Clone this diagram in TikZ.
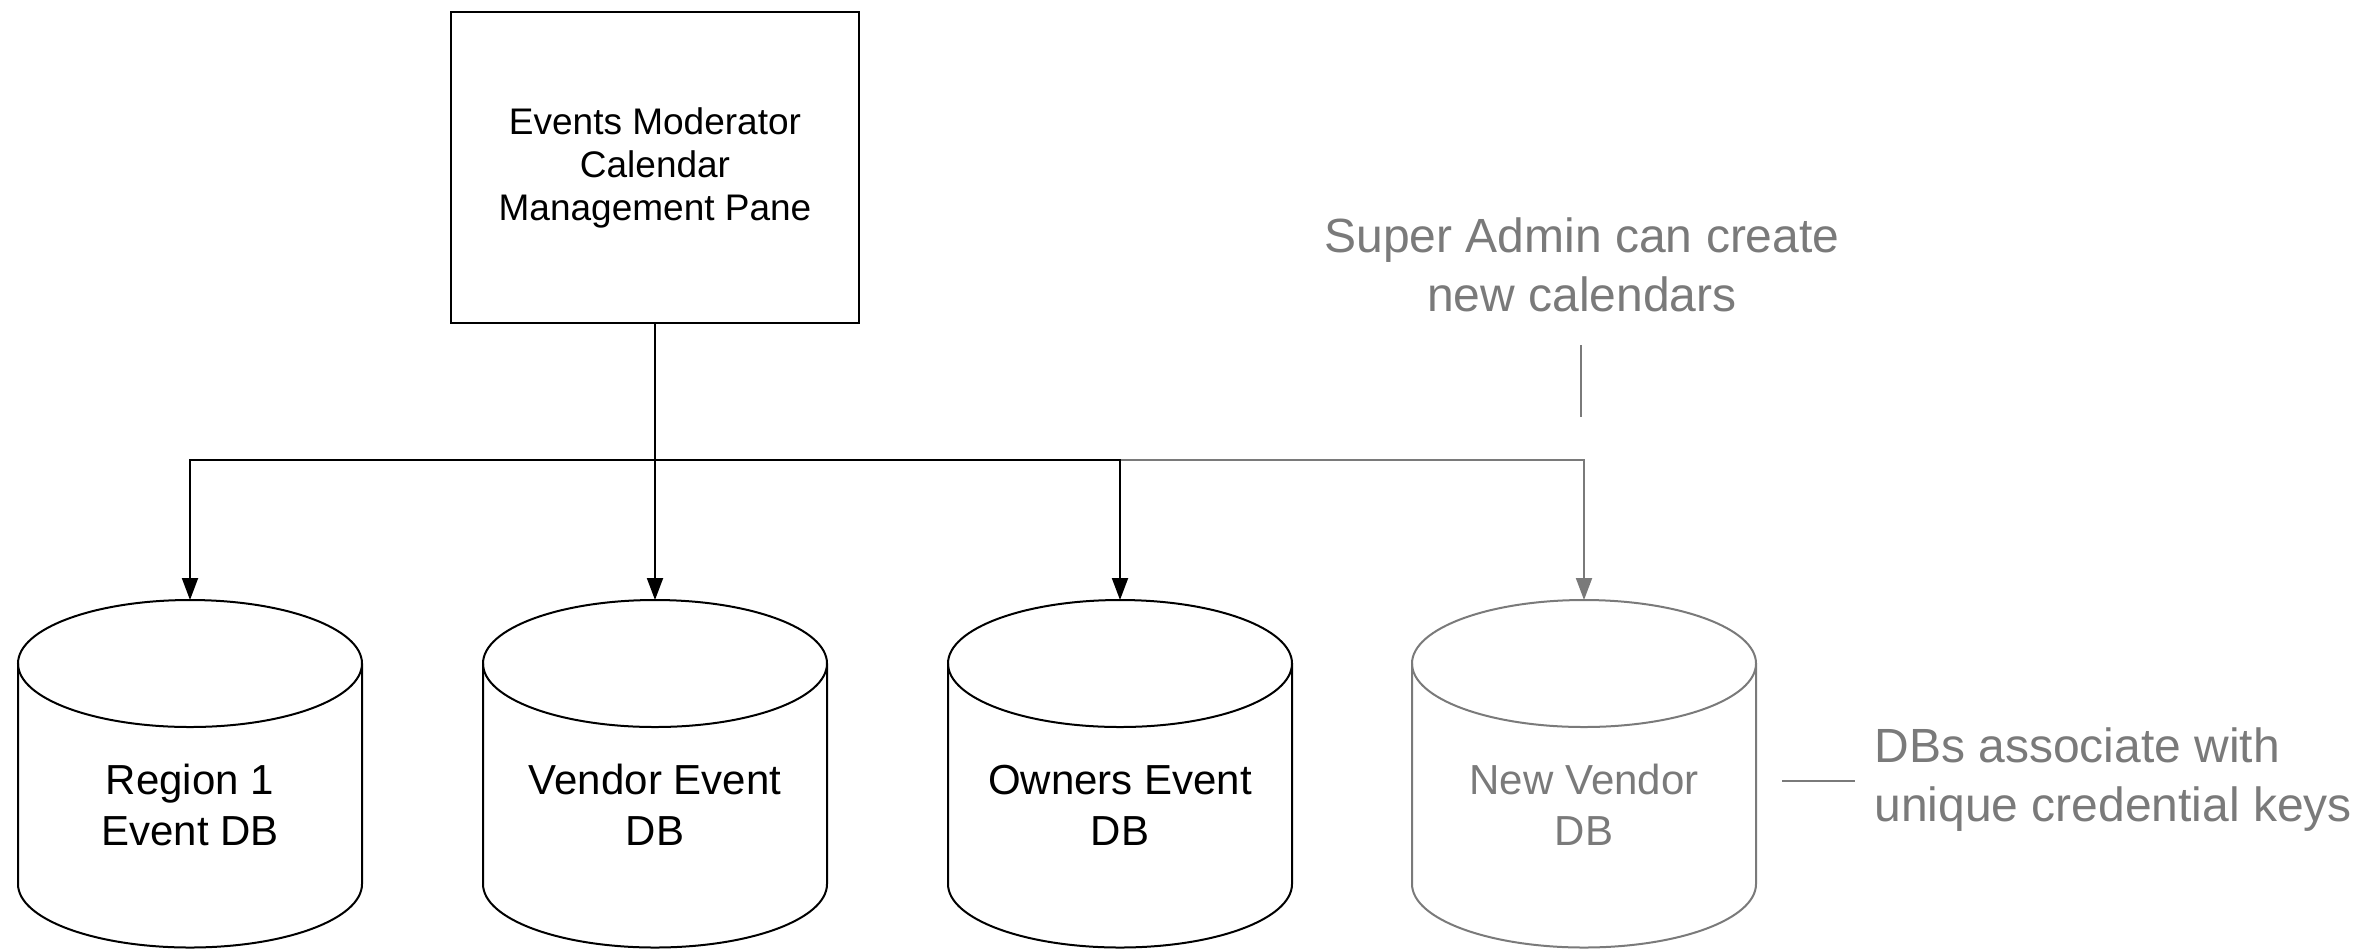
\documentclass[tikz,border=0pt]{standalone}
\usepackage{fontspec}
\setmainfont{Liberation Sans}
\usetikzlibrary{arrows.meta}
\definecolor{note}{HTML}{7A7A7A}
\tikzset{
  box/.style={draw, line width=1pt, minimum width=204pt, minimum height=155.5pt, align=center, inner sep=0pt, font=\fontsize{18.5}{21.5}\selectfont},
  dblabel/.style={align=center, inner sep=0pt, font=\fontsize{21}{25.5}\selectfont},
  notetext/.style={text=note, inner sep=0pt, font=\fontsize{24}{29.5}\selectfont},
  link/.style={line width=1pt, -{Triangle[length=11pt,width=8pt]}},
  cylline/.style={line width=1pt},
  noteline/.style={line width=1pt, draw=note},
}
\begin{document}
\begin{tikzpicture}[x=0.5pt,y=-0.5pt]
\useasboundingbox (0,0) rectangle (2370,949);

% top box
\node[box] (box) at (655,167.5) {Events Moderator\\Calendar\\Management Pane};

% cylinders
\foreach \cx/\c in {190/black,655/black,1120/black,1584/note} {
  \draw[cylline, draw=\c] (\cx,663.5) ellipse [x radius=86pt, y radius=31.75pt];
  \draw[cylline, draw=\c] (\cx-172,663.5) -- (\cx-172,884) arc[start angle=180, end angle=360, x radius=86pt, y radius=31.75pt] -- (\cx+172,663.5);
}
\coordinate (t1) at (190,600);
\coordinate (t2) at (655,600);
\coordinate (t3) at (1120,600);
\coordinate (t4) at (1584,600);
\coordinate (bus) at (655,459.5);

\node[dblabel] (db1) at (190,805) {Region 1\\Event DB};
\node[dblabel] (db2) at (655,805) {Vendor Event\\DB};
\node[dblabel] (db3) at (1120,805) {Owners Event\\DB};
\node[dblabel, text=note] (db4) at (1584,805) {New Vendor\\DB};

% connectors
\draw[link, note] (box.south) -- (bus) -| (t4);
\draw[link] (box.south) -- (bus) -| (t1);
\draw[link] (box.south) -- (t2);
\draw[link] (box.south) -- (bus) -| (t3);

% annotations
\node[notetext, align=center] (sa) at (1582,265) {Super Admin can create\\new calendars};
\coordinate (sa1) at (1581,345);
\coordinate (sa2) at (1581,417);
\draw[noteline] (sa1) -- (sa2);

\node[notetext, align=left, anchor=west] (dk) at (1874,780) {DBs associate with\\unique credential keys};
\coordinate (dk1) at (1782,781);
\coordinate (dk2) at (1855,781);
\draw[noteline] (dk1) -- (dk2);
\end{tikzpicture}
\end{document}
